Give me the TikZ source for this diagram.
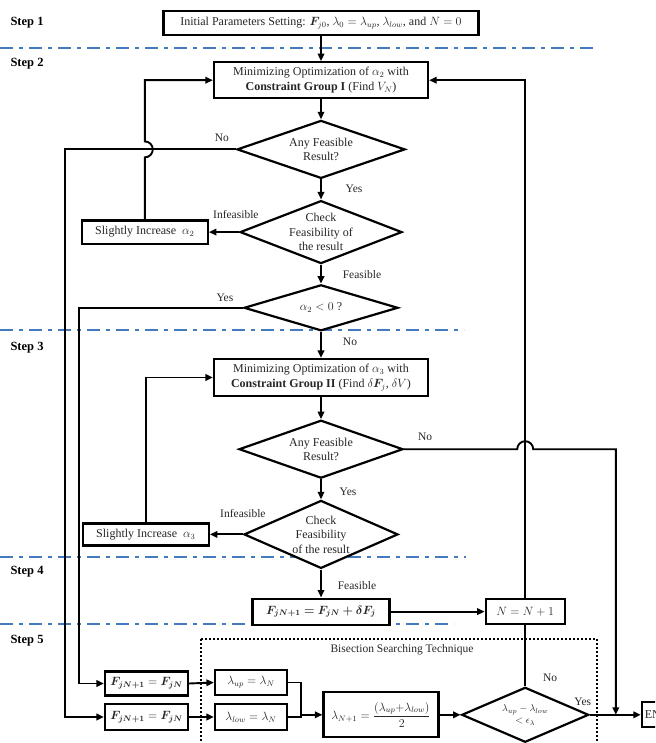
\documentclass[tikz,border=0pt]{standalone}
\usepackage{amsmath}
\usepackage{bm}
\usepackage{fontspec}
\setmainfont{Liberation Serif}
\usepackage{tikz}
\usetikzlibrary{arrows.meta,positioning,shapes.geometric}
\definecolor{stepblue}{RGB}{68,122,190}

\begin{document}
\begin{tikzpicture}[
  x=1pt, y=-1pt,
  font=\fontsize{12}{14.5}\selectfont,
  box/.style={draw, line width=2.2pt, align=center, inner sep=2pt, fill=white, text=black!85},
  decide/.style={draw, diamond, line width=2.2pt, align=center, inner sep=-2pt, fill=white, text=black!85},
  arrow/.style={-{Triangle[length=7.5pt,width=6.5pt]}, line width=1.9pt},
  link/.style={line width=1.9pt},
  stepline/.style={stepblue, line width=2.6pt, dash pattern=on 13pt off 6pt on 4pt off 6pt},
  steplabel/.style={anchor=west, font=\fontsize{12.5}{15}\selectfont\bfseries},
  tag/.style={font=\fontsize{11.5}{13}\selectfont, inner sep=1pt, text=black!85},
  dotline/.style={line width=1.9pt, dash pattern=on 2pt off 2pt}
]
\useasboundingbox (0,0) rectangle (655,743);
\clip (0,0) rectangle (655,743);

\draw[stepline] (0,48) -- (597,48);
\draw[stepline] (0,330) -- (464,330);
\draw[stepline] (0,557) -- (466,557);
\draw[stepline] (0,624) -- (454,624);

\node[steplabel] (st1) at (7,23) {Step 1};
\node[steplabel] (st2) at (7,64) {Step 2};
\node[steplabel] (st3) at (7,348) {Step 3};
\node[steplabel] (st4) at (7,572) {Step 4};
\node[steplabel] (st5) at (7,641) {Step 5};

\draw[dotline] (201,639) rectangle (597,760);
\node[tag] (bst) at (402,650) {Bisection Searching Technique};

\node[box, minimum width=315pt, minimum height=24pt] (init) at (321,23) {Initial Parameters Setting: $\bm{F}_{j0}$,\ $\lambda_0=\lambda_{up}$,\ $\lambda_{low}$, and $N=0$};
\node[box, minimum width=214pt, minimum height=36pt, below=25pt of init] (optA) {Minimizing Optimization of $\alpha_2$ with\\\textbf{Constraint Group I} (Find $V_N$)};
\node[decide, minimum width=168pt, minimum height=58pt, aspect=2.9, below=20pt of optA] (d1) {Any Feasible\\Result?};
\node[decide, minimum width=162pt, minimum height=63pt, aspect=2.57, below=20pt of d1] (d2) {Check\\Feasibility of\\the result};
\node[decide, minimum width=154pt, minimum height=46pt, aspect=3.35, below=19pt of d2] (d3) {$\alpha_2<0$ ?};
\node[box, minimum width=214pt, minimum height=37pt, below=26pt of d3] (optB) {Minimizing Optimization of $\alpha_3$ with\\\textbf{Constraint Group II} (Find $\delta\bm{F}_j$, $\delta V$)};
\node[decide, minimum width=164pt, minimum height=58pt, aspect=2.83, below=22pt of optB] (d4) {Any Feasible\\Result?};
\node[decide, minimum width=154pt, minimum height=68pt, aspect=2.26, below=20pt of d4] (d5) {Check\\Feasibility\\of the result};
\node[box, minimum width=137pt, minimum height=26pt, below=28pt of d5] (upd) {$\bm{F_{jN+1}=F_{jN}+\delta F_j}$};

\node[box, minimum width=126pt, minimum height=23pt, left=30pt of d2] (inc2) {Slightly Increase\ \ $\alpha_2$};
\node[box, minimum width=126pt, minimum height=22pt, left=33pt of d5] (inc3) {Slightly Increase\ \ $\alpha_3$};
\node[box, minimum width=79pt, minimum height=25pt, right=94pt of upd] (nbox) {$N=N+1$};
\node[decide, minimum width=127pt, minimum height=55pt, aspect=2.3, below=61pt of nbox, font=\fontsize{10}{12}\selectfont] (d6) {$\lambda_{up}-\lambda_{low}$\\$<\epsilon_\lambda$};
\node[box, minimum width=115pt, minimum height=45pt, left=21pt of d6] (lnext) {$\lambda_{N+1}=\dfrac{(\lambda_{up}{+}\lambda_{low})}{2}$};
\node[box, minimum height=25pt, inner xsep=3pt, right=51pt of d6] (stop) {END};

\node[box, minimum width=83pt, minimum height=24pt] (fup) at (146.5,683.5) {$\bm{F_{jN+1}}=\bm{F_{jN}}$};
\node[box, minimum width=83pt, minimum height=26pt] (flow) at (146.5,717) {$\bm{F_{jN+1}}=\bm{F_{jN}}$};
\node[box, minimum width=72pt, minimum height=25pt] (lup) at (251,682.5) {$\lambda_{up}=\lambda_N$};
\node[box, minimum width=72pt, minimum height=26pt] (llow) at (251,717) {$\lambda_{low}=\lambda_N$};

\coordinate (merge) at ([xshift=-21pt]lnext.west);
\coordinate (join) at ([xshift=26pt]d6.east);

\draw[arrow] (init) -- (optA);
\draw[arrow] (optA) -- (d1);
\draw[arrow] (d1) -- (d2);
\draw[arrow] (d2) -- (d3);
\draw[arrow] (d3) -- (optB);
\draw[arrow] (optB) -- (d4);
\draw[arrow] (d4) -- (d5);
\draw[arrow] (d5) -- (upd);

\draw[arrow] (d2.west) -- (inc2.east);
\draw[arrow] (inc2.north) -- ([yshift=-8pt]inc2.north |- d1.west) arc[start angle=-90, end angle=90, radius=8pt] |- (optA.west);
\draw[arrow] (d5.west) -- (inc3.east);
\draw[arrow] (inc3.north) |- (optB.west);

\draw[arrow] (d1.west) -| ([xshift=-39pt]flow.west) -- (flow.west);
\draw[arrow] (d3.west) -| ([xshift=-25pt]fup.west) -- (fup.west);

\draw[arrow] (upd.east) -- (nbox.west);
\draw[arrow] (nbox.north) |- (optA.east);
\draw[link] (nbox.south) -- (d6.north);
\draw[arrow] (d4.east) -- ([xshift=-8pt]nbox.north |- d4.east) arc[start angle=180, end angle=0, radius=8pt] -| (join);

\draw[arrow] (fup.east) -- (lup.west);
\draw[arrow] (flow.east) -- (llow.west);
\draw[link] (lup.east) -| (merge);
\draw[link] (llow.east) -| (merge);
\draw[arrow] (merge) -- (lnext.west);
\draw[arrow] (lnext.east) -- (d6.west);
\draw[arrow] (d6.east) -- (stop.west);

\node[tag] (no1) at ([shift={(-14,-12)}]d1.west) {No};
\node[tag] (yes1) at ([shift={(33,9)}]d1.south) {Yes};
\node[tag] (inf1) at ([shift={(-3,-18)}]d2.west) {Infeasible};
\node[tag] (fea1) at ([shift={(41,10)}]d2.south) {Feasible};
\node[tag] (yes2) at ([shift={(-18,-10)}]d3.west) {Yes};
\node[tag, fill=white] (no2) at ([shift={(29,10)}]d3.south) {No};
\node[tag] (no3) at ([shift={(21,-12)}]d4.east) {No};
\node[tag] (yes3) at ([shift={(27,12)}]d4.south) {Yes};
\node[tag] (inf2) at ([shift={(0,-21)}]d5.west) {Infeasible};
\node[tag] (fea2) at ([shift={(36,16)}]d5.south) {Feasible};
\node[tag] (no4) at ([shift={(25,-8)}]d6.north) {No};
\node[tag] (yes4) at ([shift={(-7,-13)}]d6.east) {Yes};

\end{tikzpicture}
\end{document}
